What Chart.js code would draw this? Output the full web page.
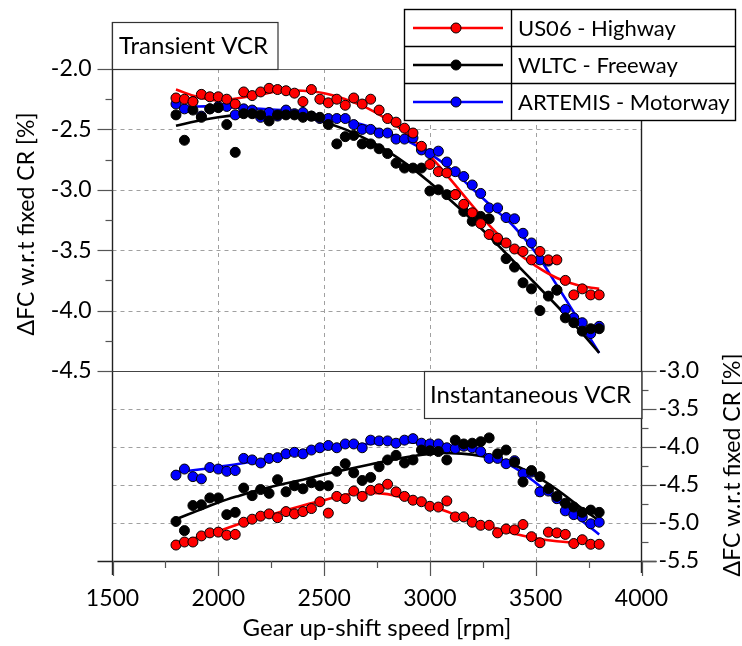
<!DOCTYPE html>
<html>
<head>
<meta charset="utf-8">
<script src="https://cdn.jsdelivr.net/npm/chart.js@4.4.1/dist/chart.umd.min.js"></script>
<style>
  html, body { margin: 0; padding: 0; background: #fff; }
  #wrap { width: 742px; height: 646px; }
</style>
</head>
<body>
<div id="wrap"><canvas id="vcr" width="742" height="646"></canvas></div>
<script>
// ---- data ------------------------------------------------------------------
// shift speeds of the measured points [rpm]
const RPM = [
  1800, 1840, 1880, 1920, 1960, 2000, 2040, 2080, 2120, 2160,
  2200, 2240, 2280, 2320, 2360, 2400, 2440, 2480, 2520, 2560,
  2600, 2640, 2680, 2720, 2760, 2800, 2840, 2880, 2920, 2960,
  3000, 3040, 3080, 3120, 3160, 3200, 3240, 3280, 3320, 3360,
  3400, 3440, 3480, 3520, 3560, 3600, 3640, 3680, 3720, 3760, 3800,
];
// shift speeds where the fitted curves are sampled [rpm]
const FIT_RPM = [
  1800, 1900, 2000, 2100, 2200, 2300, 2400, 2500, 2600, 2700, 2800,
  2900, 3000, 3100, 3200, 3300, 3400, 3500, 3600, 3700, 3800,
];

// Transient VCR, dFC [%]
const US06_TRANSIENT = [
  -2.24, -2.25, -2.27, -2.21, -2.23, -2.23, -2.25, -2.29, -2.19, -2.22,
  -2.19, -2.16, -2.17, -2.18, -2.20, -2.27, -2.17, -2.25, -2.28, -2.25,
  -2.30, -2.24, -2.29, -2.25, -2.34, -2.41, -2.44, -2.49, -2.53, -2.64,
  -2.79, -2.85, -2.86, -3.04, -3.12, -3.19, -3.28, -3.37, -3.40, -3.44,
  -3.49, -3.51, -3.58, -3.51, -3.58, -3.58, -3.75, -3.87, -3.82, -3.87, -3.87,
];
const WLTC_TRANSIENT = [
  -2.38, -2.59, -2.34, -2.40, -2.33, -2.32, -2.46, -2.69, -2.37, -2.37,
  -2.38, -2.43, -2.38, -2.38, -2.38, -2.40, -2.39, -2.40, -2.46, -2.62,
  -2.56, -2.55, -2.62, -2.62, -2.66, -2.70, -2.78, -2.82, -2.82, -2.82,
  -3.01, -3.00, -3.04, -3.04, -3.18, -3.26, -3.22, -3.24, -3.42, -3.57,
  -3.64, -3.77, -3.82, -4.00, -3.88, -3.83, -4.06, -4.10, -4.17, -4.15, -4.15,
];
const ARTEMIS_TRANSIENT = [
  -2.29, -2.33, -2.27, -2.39, -2.33, -2.31, -2.31, -2.38, -2.33, -2.34,
  -2.40, -2.36, -2.39, -2.34, -2.37, -2.36, -2.39, -2.41, -2.41, -2.41,
  -2.41, -2.46, -2.50, -2.50, -2.53, -2.53, -2.58, -2.58, -2.57, -2.67,
  -2.70, -2.68, -2.77, -2.85, -2.89, -2.96, -3.03, -3.15, -3.15, -3.23,
  -3.24, -3.36, -3.44, -3.58, -3.59, -3.83, -3.99, -4.06, -4.10, -4.19, -4.13,
];
const US06_TRANSIENT_FIT = [
  -2.17, -2.23, -2.26, -2.24, -2.21, -2.18, -2.18, -2.20, -2.25, -2.32, -2.42,
  -2.55, -2.72, -2.92, -3.13, -3.33, -3.50, -3.63, -3.73, -3.79, -3.82,
];
const WLTC_TRANSIENT_FIT = [
  -2.47, -2.43, -2.40, -2.38, -2.37, -2.38, -2.40, -2.44, -2.50, -2.58, -2.68,
  -2.80, -2.94, -3.09, -3.25, -3.42, -3.60, -3.78, -3.96, -4.15, -4.35,
];
const ARTEMIS_TRANSIENT_FIT = [
  -2.31, -2.31, -2.31, -2.32, -2.33, -2.34, -2.36, -2.39, -2.43, -2.47, -2.53,
  -2.60, -2.70, -2.83, -2.99, -3.15, -3.31, -3.52, -3.79, -4.07, -4.35,
];

// Instantaneous VCR, dFC [%]
const US06_INSTANT = [
  -5.29, -5.25, -5.25, -5.17, -5.13, -5.12, -5.16, -5.15, -4.99, -4.95,
  -4.91, -4.88, -4.93, -4.85, -4.88, -4.85, -4.81, -4.72, -4.87, -4.65,
  -4.68, -4.58, -4.65, -4.57, -4.55, -4.49, -4.59, -4.65, -4.70, -4.72,
  -4.78, -4.79, -4.71, -4.92, -4.92, -4.99, -5.03, -5.03, -5.13, -5.08,
  -5.09, -5.02, -5.18, -5.26, -5.12, -5.13, -5.15, -5.27, -5.22, -5.28, -5.28,
];
const WLTC_INSTANT = [
  -4.98, -5.10, -4.77, -4.76, -4.67, -4.67, -4.89, -4.86, -4.54, -4.64,
  -4.56, -4.61, -4.43, -4.59, -4.51, -4.55, -4.47, -4.51, -4.51, -4.32,
  -4.22, -4.34, -4.44, -4.40, -4.26, -4.17, -4.11, -4.21, -4.17, -4.04,
  -4.05, -4.06, -4.17, -3.91, -3.96, -3.95, -3.93, -3.88, -4.09, -4.04,
  -4.20, -4.46, -4.31, -4.39, -4.55, -4.65, -4.74, -4.79, -4.86, -4.83, -4.86,
];
const ARTEMIS_INSTANT = [
  -4.37, -4.29, -4.39, -4.42, -4.27, -4.29, -4.32, -4.31, -4.15, -4.17,
  -4.21, -4.15, -4.14, -4.09, -4.07, -4.09, -4.04, -4.01, -3.98, -4.01,
  -3.96, -3.96, -4.01, -3.91, -3.92, -3.92, -3.95, -3.91, -3.89, -3.95,
  -3.96, -3.96, -4.01, -4.02, -3.99, -4.01, -4.06, -4.15, -4.15, -4.22,
  -4.18, -4.35, -4.33, -4.59, -4.58, -4.68, -4.84, -4.89, -4.92, -5.01, -4.99,
];
const US06_INSTANT_FIT = [
  -5.27, -5.19, -5.11, -5.01, -4.93, -4.85, -4.77, -4.70, -4.63, -4.60, -4.62,
  -4.69, -4.77, -4.87, -4.97, -5.06, -5.14, -5.20, -5.24, -5.26, -5.25,
];
const WLTC_INSTANT_FIT = [
  -4.95, -4.84, -4.73, -4.64, -4.56, -4.49, -4.43, -4.36, -4.30, -4.24, -4.18,
  -4.13, -4.09, -4.08, -4.10, -4.15, -4.24, -4.38, -4.56, -4.77, -4.97,
];
const ARTEMIS_INSTANT_FIT = [
  -4.33, -4.30, -4.26, -4.22, -4.17, -4.12, -4.07, -4.03, -3.99, -3.96, -3.94,
  -3.94, -3.95, -3.98, -4.04, -4.13, -4.27, -4.47, -4.70, -4.93, -5.15,
];

const SERIES = ['US06 - Highway', 'WLTC - Freeway', 'ARTEMIS - Motorway'];
const COLORS = ['#ff0000', '#000000', '#0000ff'];

// axis ticks
const X_TICKS      = [1500, 2000, 2500, 3000, 3500, 4000];
const TOP_TICKS    = [-2.0, -2.5, -3.0, -3.5, -4.0, -4.5];
const BOTTOM_TICKS = [-3.0, -3.5, -4.0, -4.5, -5.0, -5.5];

const X_TITLE = 'Gear up-shift speed [rpm]';
const Y_TITLE = '\u0394FC w.r.t fixed CR [%]';
const TOP_LABEL = 'Transient VCR';
const BOTTOM_LABEL = 'Instantaneous VCR';

// ---- layout ----------------------------------------------------------------
const FONT = 'Lato, "Open Sans", sans-serif';
const AREA = { left: 112.5, right: 641.5, top: 69, bottom: 561 };
const SPLIT_Y = 371;              // pixel row where the two panels meet
const GRID_GRAY = '#a0a0a0';
const AXIS_DARK = '#222';
const TICK_GRAY = '#555';

// Each panel's y axis runs over the whole plot height; only its own ticks show.
const topPerUnit = (SPLIT_Y - AREA.top) / (TOP_TICKS[0] - TOP_TICKS[TOP_TICKS.length - 1]);
const TOP_MIN = TOP_TICKS[0] - (AREA.bottom - AREA.top) / topPerUnit;
const botPerUnit = (AREA.bottom - SPLIT_Y) / (BOTTOM_TICKS[0] - BOTTOM_TICKS[BOTTOM_TICKS.length - 1]);
const BOT_MAX = BOTTOM_TICKS[0] + (SPLIT_Y - AREA.top) / botPerUnit;

function pts(xs, ys) {
  return xs.map((x, i) => ({ x, y: ys[i] }));
}

function midpoints(vals) {
  const out = [];
  for (let i = 0; i < vals.length - 1; i++) out.push((vals[i] + vals[i + 1]) / 2);
  return out;
}

function scatterSet(label, color, axis, xs, ys) {
  return {
    label, data: pts(xs, ys), yAxisID: axis, order: 0,
    backgroundColor: color, borderColor: '#000', borderWidth: 1,
    pointRadius: 5, pointHoverRadius: 5, showLine: false,
  };
}

function fitSet(color, axis, xs, ys) {
  return {
    data: pts(xs, ys), yAxisID: axis, order: 1,
    borderColor: color, borderWidth: 2.6, pointRadius: 0,
    showLine: true, tension: 0.4, fill: false,
  };
}

// ---- frame, grid and ticks drawn under the data ---------------------------
function line(ctx, x1, y1, x2, y2) {
  ctx.beginPath();
  ctx.moveTo(x1, y1);
  ctx.lineTo(x2, y2);
  ctx.stroke();
}

const framePlugin = {
  id: 'vcrFrame',
  beforeDatasetsDraw(chart) {
    const { ctx, chartArea: a, scales: { x, yT, yB } } = chart;
    ctx.save();

    // dashed grid
    ctx.strokeStyle = GRID_GRAY;
    ctx.lineWidth = 1;
    ctx.setLineDash([4, 4]);
    X_TICKS.slice(1, -1).forEach(v => {
      const px = Math.round(x.getPixelForValue(v)) + 0.5;
      line(ctx, px, a.top, px, a.bottom);
    });
    TOP_TICKS.slice(1, -1).forEach(v => {
      const py = Math.round(yT.getPixelForValue(v)) + 0.5;
      line(ctx, a.left, py, a.right, py);
    });
    BOTTOM_TICKS.slice(1, -1).forEach(v => {
      const py = Math.round(yB.getPixelForValue(v)) + 0.5;
      line(ctx, a.left, py, a.right, py);
    });
    ctx.setLineDash([]);

    // panel borders
    ctx.strokeStyle = '#666';
    ctx.lineWidth = 1.2;
    const yTop = Math.round(yT.getPixelForValue(TOP_TICKS[0])) + 0.5;
    const ySplit = Math.round(yT.getPixelForValue(TOP_TICKS[TOP_TICKS.length - 1])) + 0.5;
    line(ctx, a.left, yTop, a.right, yTop);
    ctx.strokeStyle = '#444';
    line(ctx, a.left, ySplit, a.right, ySplit);

    // axes
    ctx.strokeStyle = AXIS_DARK;
    ctx.lineWidth = 1.4;
    const yBot = Math.round(a.bottom) + 0.5;
    line(ctx, a.left - 15, yBot, a.right + 15, yBot);
    line(ctx, a.left, 22, a.left, a.bottom + 14);
    line(ctx, a.right, a.top, a.right, a.bottom + 12);

    // tick marks: majors 15px, minors 7px, all outside
    ctx.strokeStyle = TICK_GRAY;
    ctx.lineWidth = 1.2;
    X_TICKS.forEach(v => {
      const px = Math.round(x.getPixelForValue(v)) + 0.5;
      line(ctx, px, a.bottom, px, a.bottom + 15);
    });
    midpoints(X_TICKS).forEach(v => {
      const px = Math.round(x.getPixelForValue(v)) + 0.5;
      line(ctx, px, a.bottom, px, a.bottom + 7);
    });
    TOP_TICKS.forEach(v => {
      const py = Math.round(yT.getPixelForValue(v)) + 0.5;
      line(ctx, a.left - 15, py, a.left, py);
    });
    midpoints(TOP_TICKS).forEach(v => {
      const py = Math.round(yT.getPixelForValue(v)) + 0.5;
      line(ctx, a.left - 7, py, a.left, py);
    });
    BOTTOM_TICKS.forEach(v => {
      const py = Math.round(yB.getPixelForValue(v)) + 0.5;
      line(ctx, a.right, py, a.right + 15, py);
    });
    midpoints(BOTTOM_TICKS).forEach(v => {
      const py = Math.round(yB.getPixelForValue(v)) + 0.5;
      line(ctx, a.right, py, a.right + 7, py);
    });
    ctx.restore();
  },

  // panel labels, legend table and the two y titles
  afterDraw(chart) {
    const { ctx, chartArea: a } = chart;
    ctx.save();
    ctx.font = `23px ${FONT}`;
    ctx.fillStyle = '#000';
    ctx.textBaseline = 'middle';

    // y titles
    [[27, 224], [733, 465]].forEach(([cx, cy]) => {
      ctx.save();
      ctx.translate(cx, cy);
      ctx.rotate(-Math.PI / 2);
      ctx.textAlign = 'center';
      ctx.fillText(Y_TITLE, 0, 0);
      ctx.restore();
    });

    // panel labels
    ctx.font = `24px ${FONT}`;
    ctx.lineWidth = 1.2;
    ctx.strokeStyle = '#333';
    ctx.fillStyle = '#fff';
    ctx.fillRect(a.left, 22, 278 - a.left, a.top - 22);
    ctx.strokeRect(a.left, 22.5, 278 - a.left, a.top - 22);
    ctx.fillRect(424, SPLIT_Y, a.right - 424, 47);
    ctx.strokeRect(424.5, SPLIT_Y + 0.5, a.right - 424, 47);
    ctx.fillStyle = '#000';
    ctx.textAlign = 'left';
    ctx.fillText(TOP_LABEL, 119, 46);
    ctx.fillText(BOTTOM_LABEL, 430, 395);

    // legend table
    const L = { x: 404.5, y: 9.5, w: 331, rowH: 37, split: 511 };
    ctx.fillStyle = '#fff';
    ctx.fillRect(L.x, L.y, L.w, L.rowH * 3);
    ctx.strokeStyle = '#000';
    ctx.lineWidth = 1.4;
    ctx.strokeRect(L.x, L.y, L.w, L.rowH * 3);
    line(ctx, L.split + 0.5, L.y, L.split + 0.5, L.y + L.rowH * 3);
    for (let r = 1; r < 3; r++) line(ctx, L.x, L.y + r * L.rowH, L.x + L.w, L.y + r * L.rowH);
    ctx.font = `22px ${FONT}`;
    SERIES.forEach((name, r) => {
      const cy = L.y + r * L.rowH + L.rowH / 2;
      ctx.strokeStyle = COLORS[r];
      ctx.lineWidth = 2.6;
      line(ctx, 413, cy, 503, cy);
      ctx.beginPath();
      ctx.arc(456, cy, 5, 0, Math.PI * 2);
      ctx.fillStyle = COLORS[r];
      ctx.fill();
      ctx.lineWidth = 1;
      ctx.strokeStyle = '#000';
      ctx.stroke();
      ctx.fillStyle = '#000';
      ctx.fillText(name, 518, cy + 1);
    });
    ctx.restore();
  },
};

// ---- chart -----------------------------------------------------------------
const datasets = [
  fitSet(COLORS[0], 'yT', FIT_RPM, US06_TRANSIENT_FIT),
  fitSet(COLORS[1], 'yT', FIT_RPM, WLTC_TRANSIENT_FIT),
  fitSet(COLORS[2], 'yT', FIT_RPM, ARTEMIS_TRANSIENT_FIT),
  fitSet(COLORS[0], 'yB', FIT_RPM, US06_INSTANT_FIT),
  fitSet(COLORS[1], 'yB', FIT_RPM, WLTC_INSTANT_FIT),
  fitSet(COLORS[2], 'yB', FIT_RPM, ARTEMIS_INSTANT_FIT),
  scatterSet(SERIES[0], COLORS[0], 'yT', RPM, US06_TRANSIENT),
  scatterSet(SERIES[1], COLORS[1], 'yT', RPM, WLTC_TRANSIENT),
  scatterSet(SERIES[2], COLORS[2], 'yT', RPM, ARTEMIS_TRANSIENT),
  scatterSet(SERIES[0], COLORS[0], 'yB', RPM, US06_INSTANT),
  scatterSet(SERIES[1], COLORS[1], 'yB', RPM, WLTC_INSTANT),
  scatterSet(SERIES[2], COLORS[2], 'yB', RPM, ARTEMIS_INSTANT),
];

const tickFont = { family: FONT, size: 23 };
const hiddenGrid = { display: false, drawTicks: true, tickLength: 15 };

new Chart(document.getElementById('vcr'), {
  type: 'scatter',
  data: { datasets },
  plugins: [framePlugin],
  options: {
    responsive: false,
    animation: false,
    layout: { padding: { top: AREA.top, left: 0, right: 0, bottom: 0 } },
    plugins: { legend: { display: false }, tooltip: { enabled: false } },
    scales: {
      x: {
        type: 'linear', position: 'bottom', min: 1500, max: 4000,
        afterBuildTicks(s) { s.ticks = X_TICKS.map(v => ({ value: v })); },
        afterFit(s) { s.height = 646 - AREA.bottom; },
        grid: hiddenGrid,
        border: { display: false },
        ticks: { font: tickFont, color: '#000', padding: 9, maxRotation: 0, autoSkip: false,
                 callback: v => String(v) },
        title: { display: true, text: X_TITLE, color: '#000', font: { family: FONT, size: 24 },
                 padding: { top: 0, bottom: 3 } },
      },
      yT: {
        type: 'linear', position: 'left', min: TOP_MIN, max: TOP_TICKS[0],
        afterBuildTicks(s) { s.ticks = TOP_TICKS.map(v => ({ value: v })); },
        afterFit(s) { s.width = AREA.left; },
        grid: hiddenGrid,
        border: { display: false },
        ticks: { font: tickFont, color: '#000', padding: 6, autoSkip: false,
                 callback: v => v.toFixed(1) },
      },
      yB: {
        type: 'linear', position: 'right', min: BOTTOM_TICKS[BOTTOM_TICKS.length - 1], max: BOT_MAX,
        afterBuildTicks(s) { s.ticks = BOTTOM_TICKS.map(v => ({ value: v })); },
        afterFit(s) { s.width = 742 - AREA.right; },
        grid: hiddenGrid,
        border: { display: false },
        ticks: { font: tickFont, color: '#000', padding: 2, autoSkip: false,
                 callback: v => v.toFixed(1) },
      },
    },
  },
});
</script>
</body>
</html>
